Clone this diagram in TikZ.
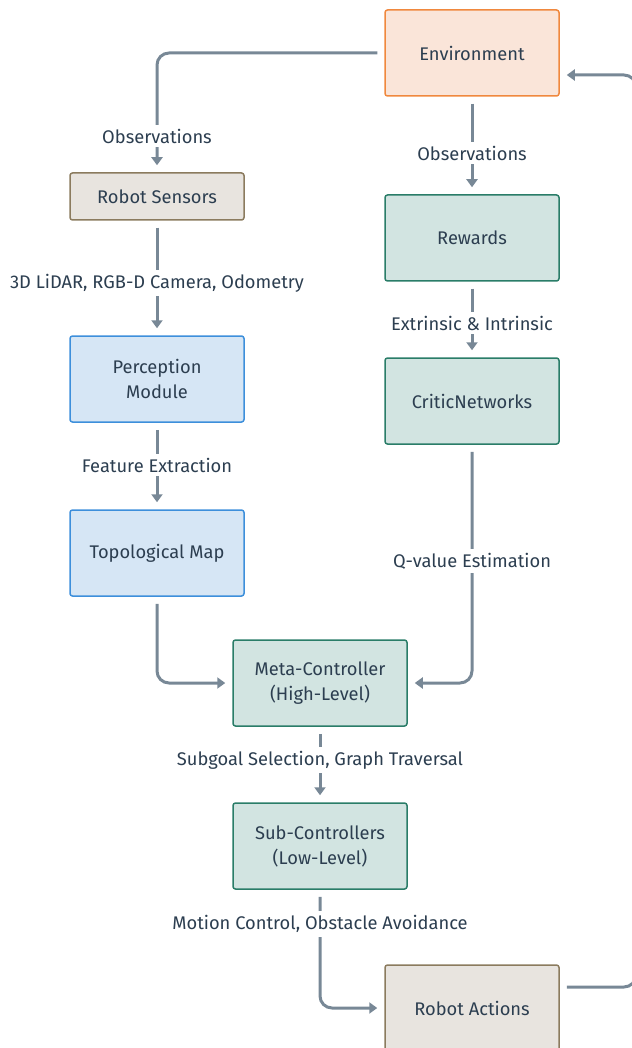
\documentclass[tikz,border=0pt]{standalone}
\usepackage{fontspec}
\setmainfont{Fira Sans}
\usetikzlibrary{arrows.meta}
\definecolor{txt}{HTML}{2C3E50}
\definecolor{edge}{HTML}{788896}
\definecolor{envfill}{HTML}{FAE5D9}
\definecolor{envdraw}{HTML}{F0883E}
\definecolor{begfill}{HTML}{E8E4DF}
\definecolor{begdraw}{HTML}{8B7B5E}
\definecolor{bluefill}{HTML}{D6E6F5}
\definecolor{bluedraw}{HTML}{3D8FDB}
\definecolor{tealfill}{HTML}{D2E4E1}
\definecolor{tealdraw}{HTML}{2A7D68}
\tikzset{
  box/.style={rounded corners=2.5pt, line width=1.5pt, minimum width=174pt, minimum height=86pt,
    align=center, text=txt, font=\fontsize{18.3pt}{25pt}\selectfont, inner sep=0pt},
  envbox/.style={box, fill=envfill, draw=envdraw},
  begbox/.style={box, fill=begfill, draw=begdraw},
  bluebox/.style={box, fill=bluefill, draw=bluedraw},
  tealbox/.style={box, fill=tealfill, draw=tealdraw},
  arr/.style={draw=edge, line width=3pt, rounded corners=12pt, shorten <=7pt, shorten >=7pt,
    -{Triangle[length=8pt,width=11pt]}},
  lbl/.style={fill=white, text=txt, font=\fontsize{18.3pt}{20pt}\selectfont, inner sep=4pt}
}
\begin{document}
\begin{tikzpicture}[x=1pt,y=-1pt]
\useasboundingbox (0,0) rectangle (631,1048);
\node[envbox] (env) at (472,53) {Environment};
\node[begbox, minimum height=47pt] (sens) at (157,196.5) {Robot Sensors};
\node[bluebox] (perc) at (157,379) {Perception\\Module};
\node[bluebox] (topo) at (157,553) {Topological Map};
\node[tealbox] (rew) at (472,238) {Rewards};
\node[tealbox] (crit) at (472,401) {CriticNetworks};
\node[tealbox] (meta) at (320,683) {Meta-Controller\\(High-Level)};
\node[tealbox] (sub) at (320,846) {Sub-Controllers\\(Low-Level)};
\node[begbox] (act) at (472,1008) {Robot Actions};
\coordinate (r1) at (636,987);
\coordinate (r2) at (636,75);

\draw[arr] (env.west) -| (sens.north);
\node[lbl] (l1) at (157,136) {Observations};
\draw[arr] (env.south) -- (rew.north);
\node[lbl] (l2) at (472,153) {Observations};
\draw[arr] (sens.south) -- (perc.north);
\node[lbl] (l3) at (157,283) {3D LiDAR, RGB-D Camera, Odometry};
\draw[arr] (perc.south) -- (topo.north);
\node[lbl] (l4) at (157,465) {Feature Extraction};
\draw[arr] (rew.south) -- (crit.north);
\node[lbl] (l5) at (472,323) {Extrinsic \& Intrinsic};
\draw[arr] (crit.south) |- (meta.east);
\node[lbl] (l6) at (472,561) {Q-value Estimation};
\draw[arr] (topo.south) |- (meta.west);
\draw[arr] (meta.south) -- (sub.north);
\node[lbl] (l7) at (320,760) {Subgoal Selection, Graph Traversal};
\draw[arr] (sub.south) |- (act.west);
\node[lbl] (l8) at (320,924) {Motion Control, Obstacle Avoidance};
\draw[arr] (act.east |- r1) -- (r1) -- (r2) -- (env.east |- r2);
\end{tikzpicture}
\end{document}
